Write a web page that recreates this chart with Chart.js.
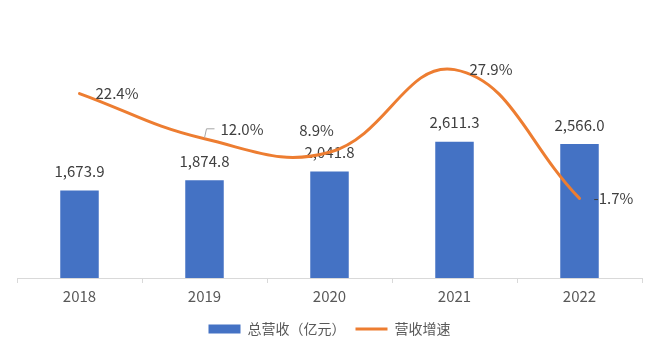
<!DOCTYPE html>
<html><head><meta charset="utf-8">
<script src="https://cdn.jsdelivr.net/npm/chart.js@4.4.0/dist/chart.umd.min.js"></script>
<style>html,body{margin:0;padding:0;background:#fff}#wrap{width:660px;height:354px}</style>
</head><body><div id="wrap"><canvas id="c" width="660" height="354"></canvas></div>
<script>
// ---- data ----
const categories = ['2018', '2019', '2020', '2021', '2022'];
const revenue = [1673.9, 1874.8, 2041.8, 2611.3, 2566.0];
const growth = [22.4, 12.0, 8.9, 27.9, -1.7];
const seriesNames = ['总营收（亿元）', '营收增速'];

// ---- style ----
const FONT = '"Noto Sans CJK SC", "Noto Sans", sans-serif';
const BAR_COLOR = '#4472C4';
const LINE_COLOR = '#ED7D31';
const LABEL_COLOR = '#404040';
const growthLabelPlacement = [
  {dx: 16, dy: 0, align: 'left'},
  {dx: 16, dy: -10, align: 'left', leader: true},
  {dx: -13, dy: -22, align: 'center'},
  {dx: 15, dy: 0, align: 'left'},
  {dx: 14, dy: 0, align: 'left'}
];

const fmtRevenue = v => v.toLocaleString('en-US', {minimumFractionDigits: 1, maximumFractionDigits: 1});
const fmtGrowth = v => v.toFixed(1) + '%';

const labelPlugin = {
  id: 'valueLabels',
  afterDatasetDraw(chart, args) {
    const ctx = chart.ctx;
    const ds = chart.data.datasets[args.index];
    ctx.save();
    ctx.font = '15px ' + FONT;
    ctx.fillStyle = LABEL_COLOR;
    ctx.textBaseline = 'middle';
    if (ds.type === 'bar') {
      ctx.textAlign = 'center';
      args.meta.data.forEach((el, i) => {
        ctx.fillText(fmtRevenue(ds.data[i]), el.x, el.y - 19);
      });
    } else {
      args.meta.data.forEach((el, i) => {
        const p = growthLabelPlacement[i];
        if (p.leader) {
          ctx.save();
          ctx.strokeStyle = '#A6A6A6';
          ctx.lineWidth = 1;
          ctx.beginPath();
          ctx.moveTo(el.x, el.y - 1);
          ctx.lineTo(el.x + 2, el.y - 10);
          ctx.lineTo(el.x + 10, el.y - 10);
          ctx.stroke();
          ctx.restore();
        }
        ctx.textAlign = p.align;
        ctx.fillText(fmtGrowth(ds.data[i]), el.x + p.dx, el.y + p.dy);
      });
    }
    ctx.restore();
  }
};

new Chart(document.getElementById('c'), {
  type: 'bar',
  data: {
    labels: categories,
    datasets: [
      {type: 'bar', label: seriesNames[0], data: revenue, yAxisID: 'y',
       backgroundColor: BAR_COLOR, barPercentage: 0.308, categoryPercentage: 1, order: 1},
      {type: 'line', label: seriesNames[1], data: growth, yAxisID: 'y1',
       borderColor: LINE_COLOR, backgroundColor: LINE_COLOR, borderWidth: 3,
       pointRadius: 0, tension: 0.42, order: 0, borderCapStyle: 'round', clip: false}
    ]
  },
  options: {
    responsive: false,
    animation: false,
    devicePixelRatio: 1,
    layout: {padding: {left: 17, right: 18, top: 17, bottom: 8}},
    scales: {
      x: {
        offset: true,
        grid: {display: true, offset: true, drawOnChartArea: false, drawTicks: true, tickLength: 5, color: '#D9D9D9'},
        border: {display: true, color: '#D9D9D9'},
        ticks: {color: '#595959', font: {family: FONT, size: 15}, padding: 4},
        afterFit(scale) { scale.height += 3; }
      },
      y: {display: false, min: 0, max: 5000},
      y1: {display: false, min: -20, max: 40}
    },
    plugins: {
      tooltip: {enabled: false},
      legend: {
        position: 'bottom',
        labels: {
          usePointStyle: true, pointStyleWidth: 32, boxHeight: 9,
          color: '#595959', font: {family: FONT, size: 14}, padding: 10,
          sort: (a, b) => a.datasetIndex - b.datasetIndex,
          generateLabels(chart) {
            const items = Chart.defaults.plugins.legend.labels.generateLabels(chart);
            items.forEach(it => {
              if (it.datasetIndex === 0) { it.pointStyle = 'rect'; it.lineWidth = 0; }
              else { it.pointStyle = 'line'; it.lineWidth = 3; }
            });
            return items;
          }
        }
      }
    }
  },
  plugins: [labelPlugin]
});
</script></body></html>
